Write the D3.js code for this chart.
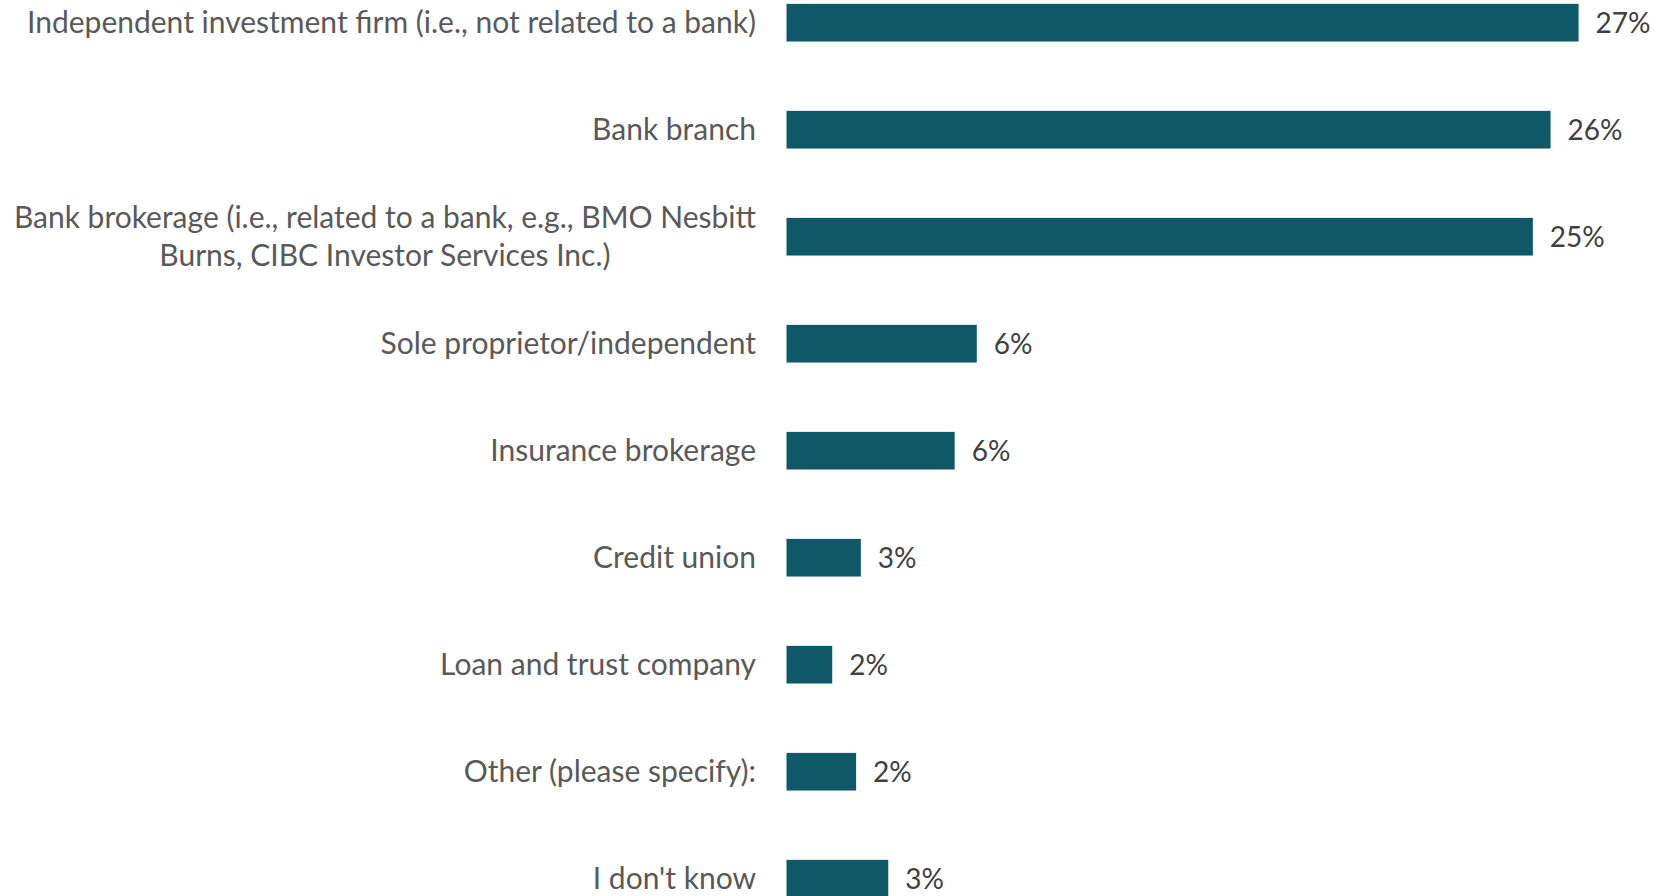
<!DOCTYPE html>
<html>
<head>
<meta charset="utf-8">
<script src="https://cdn.jsdelivr.net/npm/d3@7"></script>
<style>
  html, body { margin: 0; padding: 0; background: #ffffff; }
  svg { display: block; }
  text { font-family: Lato, "Open Sans", sans-serif; }
</style>
</head>
<body>
<svg id="chart" width="1655" height="896"></svg>
<script>
// Where respondents' advisors work (share of respondents)
const categories = [
  "Independent investment firm (i.e., not related to a bank)",
  "Bank branch",
  "Bank brokerage (i.e., related to a bank, e.g., BMO Nesbitt\nBurns, CIBC Investor Services Inc.)",
  "Sole proprietor/independent",
  "Insurance brokerage",
  "Credit union",
  "Loan and trust company",
  "Other (please specify):",
  "I don't know"
];
const shares = [0.2685, 0.259, 0.253, 0.0645, 0.057, 0.0252, 0.0155, 0.0236, 0.0345];

const width = 1655, height = 896;
const barColor = "#0f5868";
const svg = d3.select("#chart");

const x = d3.scaleLinear().domain([0, 0.30]).range([786.5, 1671.5]);
const y = d3.scaleBand()
  .domain(categories)
  .range([-30.8, 932.2])
  .paddingInner(0.648)
  .paddingOuter(0.324);

const fmt = d3.format(".0%");
const rows = categories.map((c, i) => ({ category: c, value: shares[i] }));

// Bars
svg.append("g").selectAll("rect")
  .data(rows)
  .join("rect")
  .attr("x", x(0))
  .attr("y", d => y(d.category))
  .attr("width", d => x(d.value) - x(0))
  .attr("height", y.bandwidth())
  .attr("fill", barColor);

// Value labels
svg.append("g").selectAll("text")
  .data(rows)
  .join("text")
  .attr("x", d => x(d.value) + 17)
  .attr("y", d => y(d.category) + y.bandwidth() / 2)
  .attr("dy", "0.35em")
  .attr("font-size", 28)
  .attr("fill", "#404040")
  .text(d => fmt(d.value));

// Category labels: right-aligned block, wrapped lines centred within it
const labelRight = 756;
const lineGap = 38;
const labels = svg.append("g").selectAll("text")
  .data(rows)
  .join("text")
  .attr("font-size", 30)
  .attr("fill", "#595959");

labels.each(function(d) {
  const lines = d.category.split("\n");
  const cy = y(d.category) + y.bandwidth() / 2;
  const t = d3.select(this);
  const spans = lines.map((ln, k) => t.append("tspan")
    .attr("y", cy + (k - (lines.length - 1) / 2) * lineGap)
    .attr("dy", "0.35em")
    .text(ln));
  const widest = d3.max(spans, s => s.node().getComputedTextLength());
  const mid = labelRight - widest / 2;
  spans.forEach(s => s.attr("x", mid).attr("text-anchor", "middle"));
});
</script>
</body>
</html>
